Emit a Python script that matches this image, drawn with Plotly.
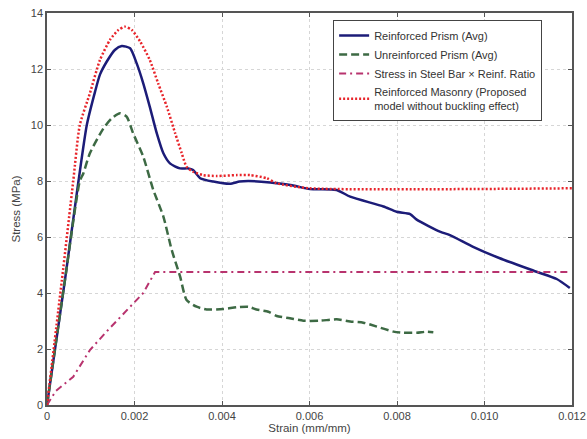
import plotly.graph_objects as go

# Reinforced Prism (Avg)
rp_x = [0, 0.00041, 0.00072, 0.00091, 0.0011, 0.00121, 0.00136, 0.00155, 0.00171, 0.0019, 0.00205,
        0.0022, 0.00235, 0.00251, 0.00266, 0.00281, 0.00304, 0.00323, 0.00334, 0.0035, 0.0038,
        0.00418, 0.0044, 0.0046, 0.0051, 0.0056, 0.00601, 0.00662, 0.00693, 0.00769, 0.00799,
        0.0083, 0.00845, 0.00898, 0.00921, 0.00974, 0.01035, 0.01119, 0.01165, 0.01195]
rp_y = [0, 4.46, 8.0, 10.0, 11.2, 11.8, 12.25, 12.68, 12.82, 12.74, 12.2,
        11.49, 10.65, 9.7, 8.99, 8.63, 8.45, 8.45, 8.39, 8.1, 7.98,
        7.9, 7.98, 8.0, 7.95, 7.85, 7.71, 7.68, 7.44, 7.09, 6.9,
        6.82, 6.62, 6.19, 6.07, 5.65, 5.24, 4.76, 4.5, 4.18]

# Unreinforced Prism (Avg)
up_x = [0, 0.00041, 0.00075, 0.00083, 0.00098, 0.00129, 0.00148, 0.00167, 0.00182, 0.00197,
        0.0022, 0.00243, 0.00266, 0.00285, 0.00304, 0.00319, 0.00342, 0.00365, 0.00403,
        0.00434, 0.0046, 0.00479, 0.00506, 0.00525, 0.00555, 0.00586, 0.00624, 0.00662,
        0.00693, 0.00723, 0.00754, 0.00792, 0.00815, 0.00845, 0.00868, 0.00883]
up_y = [0, 4.46, 8.0, 8.27, 8.99, 9.88, 10.24, 10.42, 10.3, 9.7,
        8.87, 7.68, 6.73, 5.54, 4.6, 3.75, 3.51, 3.41, 3.43,
        3.49, 3.51, 3.41, 3.33, 3.18, 3.1, 3.01, 3.01, 3.06,
        2.98, 2.94, 2.8, 2.62, 2.58, 2.58, 2.62, 2.6]

# Stress in Steel Bar x Reinf. Ratio
sb_x = [0, 0.0002, 0.0006, 0.00098, 0.00136, 0.00182, 0.0022, 0.00247, 0.01195]
sb_y = [0, 0.5, 1.01, 1.96, 2.62, 3.39, 4.0, 4.75, 4.75]

# Reinforced Masonry (Proposed model without buckling effect)
rm_x = [0, 0.00034, 0.0006, 0.00075, 0.00098, 0.00121, 0.00144, 0.00163, 0.00178, 0.00194,
        0.00213, 0.00235, 0.00254, 0.00274, 0.00293, 0.00308, 0.00319, 0.00334, 0.00357,
        0.00388, 0.00434, 0.00464, 0.00502, 0.00525, 0.00601, 0.012]
rm_y = [0, 4.46, 8.0, 10.0, 11.13, 12.32, 13.04, 13.39, 13.51, 13.39,
        12.98, 12.32, 11.49, 10.65, 9.7, 8.99, 8.51, 8.33, 8.21,
        8.18, 8.21, 8.21, 8.1, 7.92, 7.74, 7.74]

x_ticks = [0, 0.002, 0.004, 0.006, 0.008, 0.010, 0.012]
x_tick_text = ["0", "0.002", "0.004", "0.006", "0.008", "0.010", "0.012"]
y_ticks = [0, 2, 4, 6, 8, 10, 12, 14]

fig = go.Figure()
fig.add_trace(go.Scatter(x=rp_x, y=rp_y, mode="lines", name="Reinforced Prism (Avg)",
                         line=dict(color="#1c1c78", width=2.5, shape="spline", smoothing=0.6)))
fig.add_trace(go.Scatter(x=up_x, y=up_y, mode="lines", name="Unreinforced Prism (Avg)",
                         line=dict(color="#3d6a44", width=2.5, dash="8px,4px", shape="spline", smoothing=0.6)))
fig.add_trace(go.Scatter(x=sb_x, y=sb_y, mode="lines", name="Stress in Steel Bar × Reinf. Ratio",
                         line=dict(color="#b8336e", width=2, dash="7px,4px,2px,4px")))
fig.add_trace(go.Scatter(x=rm_x, y=rm_y, mode="lines",
                         name="Reinforced Masonry (Proposed<br>model without buckling effect)",
                         line=dict(color="#e8242a", width=2.5, dash="2px,2px", shape="spline", smoothing=0.6)))

axis_common = dict(showline=True, linecolor="#555555", linewidth=1.5, mirror="ticks",
                   ticks="inside", ticklen=4, tickcolor="#555555", automargin=False,
                   showgrid=True, gridcolor="#d6d6d6", griddash="dot", gridwidth=1,
                   zeroline=False, tickfont=dict(size=11, color="#444444"))

fig.update_xaxes(range=[0, 0.012], tickvals=x_ticks, ticktext=x_tick_text,
                 title=dict(text="Strain (mm/mm)", font=dict(size=11.5, color="#444444"), standoff=1),
                 **axis_common)
fig.update_yaxes(range=[0, 14], tickvals=y_ticks,
                 title=dict(text="Stress (MPa)", font=dict(size=11.5, color="#444444"), standoff=8),
                 **axis_common)

fig.update_layout(
    width=587, height=439,
    margin=dict(l=47, r=15, t=13, b=34),
    paper_bgcolor="white", plot_bgcolor="white",
    font=dict(family="Liberation Sans, Arial, sans-serif", size=11, color="#444444"),
    legend=dict(x=0.545, y=0.982, xanchor="left", yanchor="top",
                bgcolor="white", bordercolor="#444444", borderwidth=1,
                font=dict(size=11, color="#333333"), tracegroupgap=0, itemwidth=30),
    showlegend=True,
)

fig.write_html("out.html", config={"displayModeBar": False},
               post_script="document.body.style.margin='0px';")
